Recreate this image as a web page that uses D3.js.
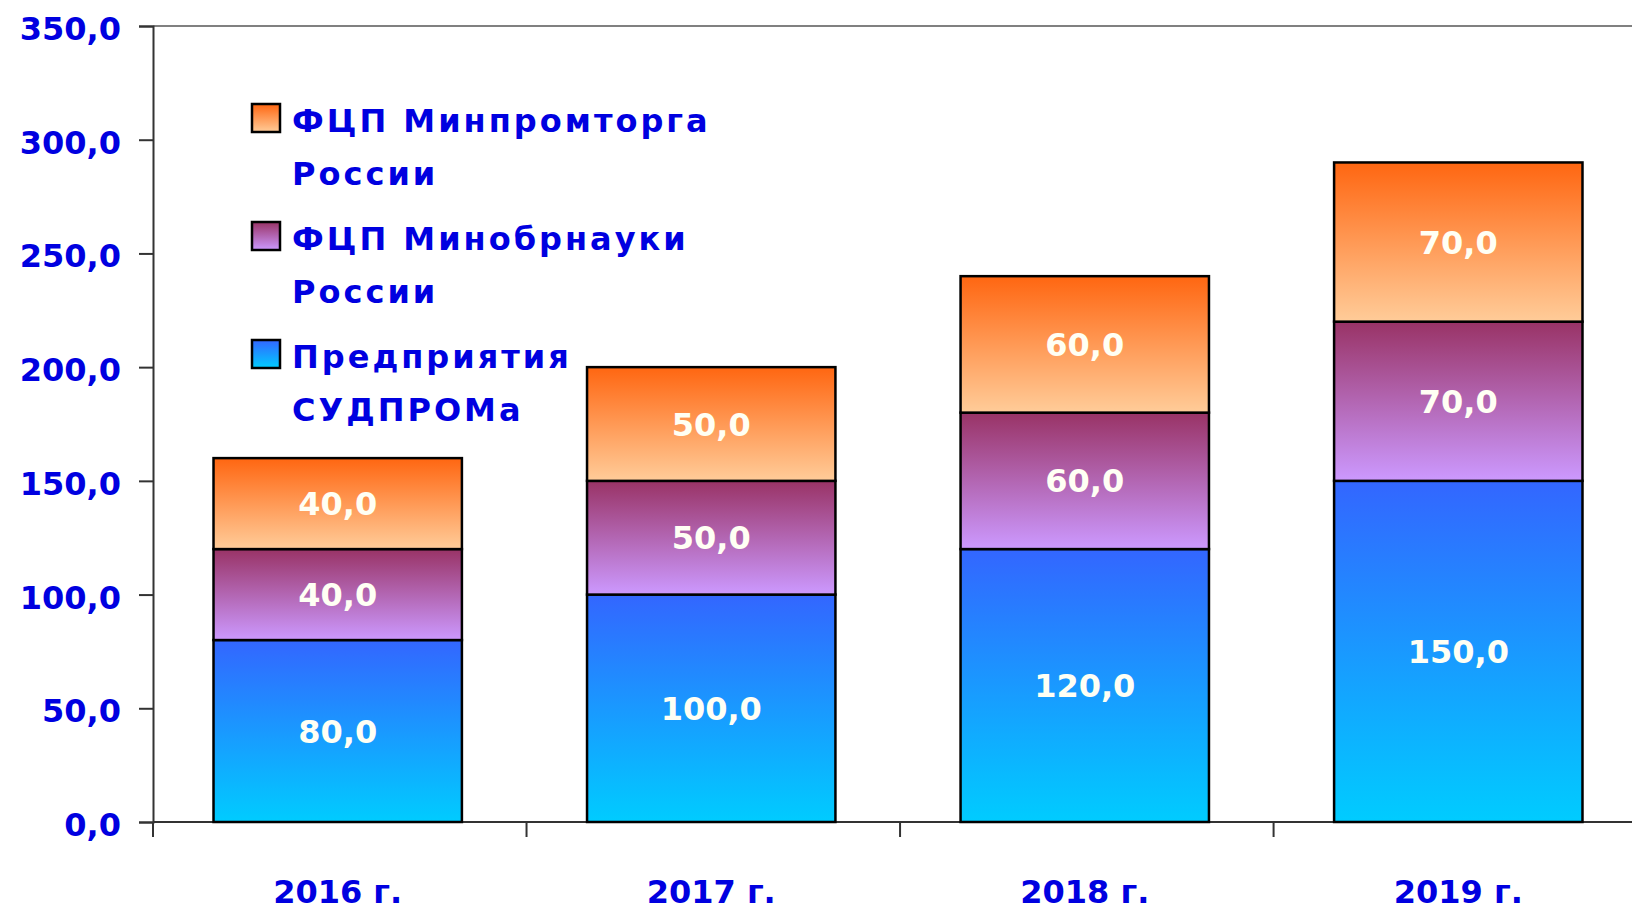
<!DOCTYPE html>
<html>
<head>
<meta charset="utf-8">
<script src="https://cdn.jsdelivr.net/npm/d3@7/dist/d3.min.js"></script>
<style>
  html, body { margin: 0; padding: 0; background: #fff; }
  svg { display: block; }
  text { font-family: "DejaVu Sans", Verdana, sans-serif; font-weight: bold; }
</style>
</head>
<body>
<div id="chart"></div>
<script>
// Size of the page
let width = 1632;
let height = 913;

// Chart data
let years = ["2016 г.", "2017 г.", "2018 г.", "2019 г."];
let sudprom = [80, 100, 120, 150];
let minobr = [40, 50, 60, 70];
let minprom = [40, 50, 60, 70];
let yTicks = [0, 50, 100, 150, 200, 250, 300, 350];

let seriesKeys = ["sudprom", "minobr", "minprom"];
let seriesNames = {
    sudprom: ["Предприятия", "СУДПРОМа"],
    minobr: ["ФЦП Минобрнауки", "России"],
    minprom: ["ФЦП Минпромторга", "России"]
};
// top and bottom colour of each gradient
let seriesColors = {
    sudprom: ["#3366ff", "#00ccff"],
    minobr: ["#993366", "#cc99ff"],
    minprom: ["#ff6611", "#ffcc99"]
};

let rows = years.map(function(y, i){
    return {year: y, sudprom: sudprom[i], minobr: minobr[i], minprom: minprom[i]};
});

let blue = "#0000e0";
let locale = d3.formatLocale({decimal: ",", thousands: " ", grouping: [3], currency: ["", ""]});
let fmt = locale.format(".1f");

// Plot area (runs past the right edge like the original)
let plotLeft = 153, plotRight = 1643, plotTop = 26, plotBottom = 822;

let x = d3.scaleBand()
.domain(years)
.range([plotLeft, plotRight])
.paddingInner(0.335)
.paddingOuter(0.162);

let y = d3.scaleLinear()
.domain([0, 350])
.range([plotBottom, plotTop]);

let svg = d3.select('#chart')
.append('svg')
.attr('width', width)
.attr('height', height);

// Gradients
let defs = svg.append('defs');
seriesKeys.forEach(function(k){
    let g = defs.append('linearGradient')
    .attr('id', 'grad-' + k)
    .attr('x1', 0).attr('y1', 0).attr('x2', 0).attr('y2', 1);
    g.append('stop').attr('offset', '0%').attr('stop-color', seriesColors[k][0]);
    g.append('stop').attr('offset', '100%').attr('stop-color', seriesColors[k][1]);
});

// Top border line
svg.append('line')
.attr('x1', plotLeft).attr('x2', width)
.attr('y1', plotTop).attr('y2', plotTop)
.attr('stroke', '#808080').attr('stroke-width', 2);

// y axis
let yAxis = svg.append('g')
.attr('transform', 'translate(' + plotLeft + ',0)')
.call(d3.axisLeft(y).tickValues(yTicks).tickSize(14).tickPadding(18).tickFormat(fmt));
yAxis.select('.domain').attr('stroke', '#333').attr('stroke-width', 2);
yAxis.selectAll('.tick line').attr('stroke', '#333').attr('stroke-width', 2);
yAxis.selectAll('.tick text')
.attr('fill', blue)
.attr('font-size', 32)
.attr('dy', '0.42em')
.style('font-family', '"DejaVu Sans", sans-serif');

// x axis line and ticks at band boundaries
let step = x.step();
svg.append('line')
.attr('x1', plotLeft).attr('x2', width)
.attr('y1', plotBottom).attr('y2', plotBottom)
.attr('stroke', '#333').attr('stroke-width', 2);

svg.append('g')
.selectAll('line')
.data(d3.range(years.length + 1))
.enter()
.append('line')
.attr('x1', function(i){ return plotLeft + i * step; })
.attr('x2', function(i){ return plotLeft + i * step; })
.attr('y1', plotBottom)
.attr('y2', plotBottom + 15)
.attr('stroke', '#333')
.attr('stroke-width', 2);

svg.append('g')
.selectAll('text')
.data(years)
.enter()
.append('text')
.attr('x', function(d){ return x(d) + x.bandwidth() / 2; })
.attr('y', 903)
.attr('text-anchor', 'middle')
.attr('fill', blue)
.attr('font-size', 32)
.text(function(d){ return d; });

// Stacked bars
let stacked = d3.stack().keys(seriesKeys)(rows);

let layers = svg.append('g')
.selectAll('g')
.data(stacked)
.enter()
.append('g')
.attr('fill', function(d){ return 'url(#grad-' + d.key + ')'; });

layers.selectAll('rect')
.data(function(d){ return d; })
.enter()
.append('rect')
.attr('x', function(d){ return x(d.data.year); })
.attr('y', function(d){ return y(d[1]); })
.attr('width', x.bandwidth())
.attr('height', function(d){ return y(d[0]) - y(d[1]); })
.attr('stroke', '#000')
.attr('stroke-width', 2.5);

// Value labels
layers.selectAll('text')
.data(function(d){ return d; })
.enter()
.append('text')
.attr('x', function(d){ return x(d.data.year) + x.bandwidth() / 2; })
.attr('y', function(d){ return y((d[0] + d[1]) / 2); })
.attr('dy', '0.36em')
.attr('text-anchor', 'middle')
.attr('fill', '#fffff4')
.attr('font-size', 32)
.text(function(d){ return fmt(d[1] - d[0]); });

// Legend, top to bottom in reverse stack order
let legendKeys = ["minprom", "minobr", "sudprom"];
let legend = svg.append('g')
.selectAll('g')
.data(legendKeys)
.enter()
.append('g')
.attr('transform', function(d, i){ return 'translate(252,' + (104 + i * 118) + ')'; });

legend.append('rect')
.attr('width', 28)
.attr('height', 28)
.attr('fill', function(d){ return 'url(#grad-' + d + ')'; })
.attr('stroke', '#000')
.attr('stroke-width', 2.5);

legend.append('text')
.attr('x', 40)
.attr('y', 28)
.attr('fill', blue)
.attr('font-size', 32)
.attr('letter-spacing', 3)
.text(function(d){ return seriesNames[d][0]; });

legend.append('text')
.attr('x', 40)
.attr('y', 81)
.attr('fill', blue)
.attr('font-size', 32)
.attr('letter-spacing', 3)
.text(function(d){ return seriesNames[d][1]; });
</script>
</body>
</html>
